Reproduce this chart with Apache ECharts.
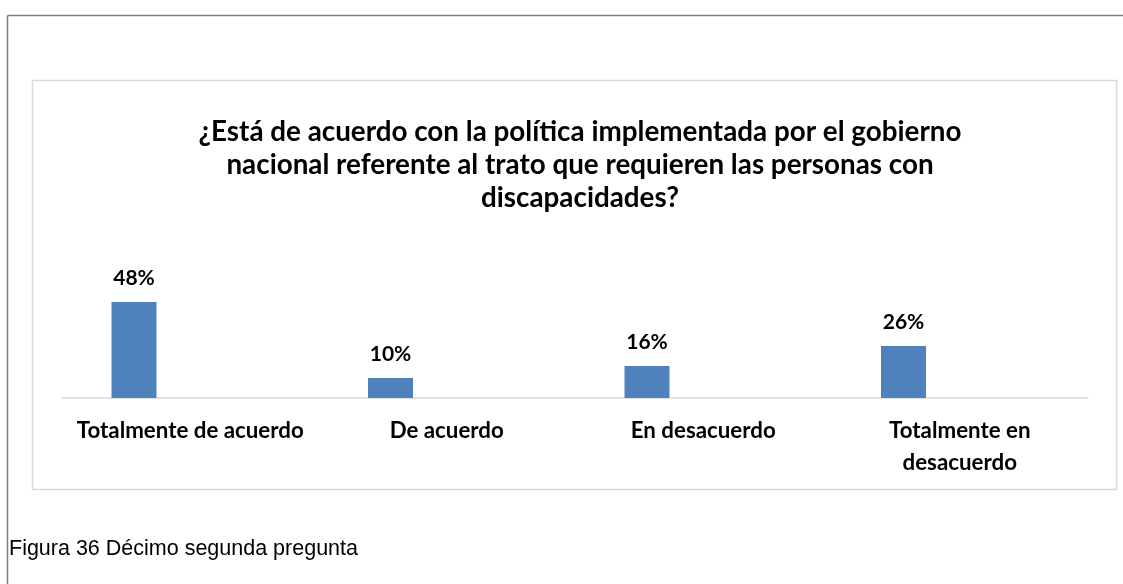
<!DOCTYPE html>
<html>
<head>
<meta charset="utf-8">
<script src="https://cdn.jsdelivr.net/npm/echarts@6/dist/echarts.min.js"></script>
<style>
html,body{margin:0;padding:0;background:#fff;}
#chart{width:1123px;height:584px;}
</style>
</head>
<body>
<div id="chart"></div>
<script>
const chartTitle = "¿Está de acuerdo con la política implementada por el gobierno\nnacional referente al trato que requieren las personas con\ndiscapacidades?";
const caption = "Figura 36 Décimo segunda pregunta";
const categories = ["Totalmente de acuerdo", "De acuerdo", "En desacuerdo", "Totalmente en\ndesacuerdo"];
const values = [48, 10, 16, 26];
const emptySeries = [null, null, null, null];

const chart = echarts.init(document.getElementById('chart'), null, {renderer: 'canvas'});
const labelFont = 'Lato, "Open Sans", sans-serif';
chart.setOption({
  backgroundColor: '#ffffff',
  animation: false,
  graphic: [
    {type: 'line', shape: {x1: 7.5, y1: 15.5, x2: 1123, y2: 15.5}, style: {stroke: '#7f7f7f', lineWidth: 1.5}},
    {type: 'line', shape: {x1: 7.5, y1: 15.5, x2: 7.5, y2: 584}, style: {stroke: '#7f7f7f', lineWidth: 1.5}},
    {type: 'rect', shape: {x: 32.5, y: 80.5, width: 1084, height: 409}, style: {fill: 'none', stroke: '#d9d9d9', lineWidth: 1.5}},
    {type: 'text', left: 9, top: 538, style: {text: caption, font: '21.5px "Liberation Sans", Arial, sans-serif', fill: '#000000'}}
  ],
  title: {
    text: chartTitle,
    left: 575,
    textAlign: 'center',
    top: 111,
    textStyle: {fontFamily: labelFont, fontWeight: 'bold', fontSize: 27.8, lineHeight: 33, color: '#000000'}
  },
  grid: {left: 62, right: 35, top: 198, bottom: 186, containLabel: false},
  xAxis: {
    type: 'category',
    data: categories,
    axisLine: {show: true, lineStyle: {color: '#d9d9d9', width: 1.5}},
    axisTick: {show: false},
    axisLabel: {margin: 17, fontFamily: labelFont, fontWeight: 'bold', fontSize: 22.3, lineHeight: 32, color: '#000000', interval: 0}
  },
  yAxis: {type: 'value', min: 0, max: 100, show: false, splitLine: {show: false}},
  series: [
    {
      type: 'bar',
      data: values,
      barWidth: 45,
      barGap: '150%',
      itemStyle: {color: '#4f81bd'},
      label: {show: true, position: 'top', distance: 13, formatter: '{c}%', fontFamily: labelFont, fontWeight: 'bold', fontSize: 21, color: '#000000'}
    },
    {
      type: 'bar',
      data: emptySeries,
      barWidth: 45,
      itemStyle: {color: '#c0504d'}
    }
  ]
});
</script>
</body>
</html>
